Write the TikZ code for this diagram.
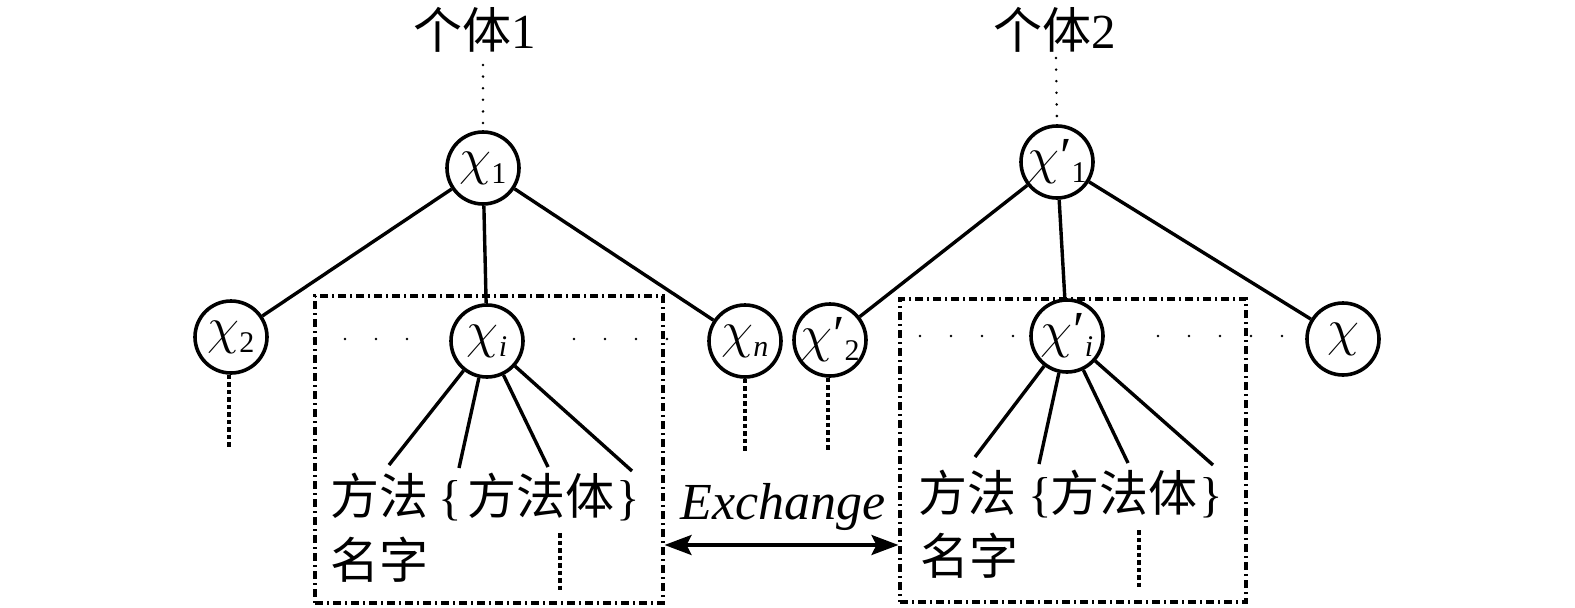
\RequirePackage{fix-cm}
\documentclass[tikz,border=0pt]{standalone}
\usepackage{fontspec}
\setmainfont{Liberation Serif}
\newfontfamily\cjk{Noto Sans CJK SC}
\usetikzlibrary{arrows.meta}
\newcommand\chiit{$\chi$}
\newcommand\subs[1]{\raisebox{-9pt}{\fontsize{30}{31}\selectfont #1}}
\newcommand\prm{\hspace{1pt}′}
\newcommand\lbl[1]{\makebox[0pt]{#1}}
\begin{document}
\begin{tikzpicture}[x=1pt,y=-1pt,
  vertex/.style={circle,draw,line width=3.6pt,minimum size=72pt,inner sep=0pt,font=\fontsize{52}{54}\selectfont},
  edge/.style={line width=3.4pt},
  topdots/.style={line width=2.8pt,line cap=round,dash pattern=on 0pt off 11.6pt},
  rowdots/.style={line width=2.8pt,line cap=round,dash pattern=on 0pt off 31pt},
  vdash/.style={line width=3.1pt,dash pattern=on 4.5pt off 3pt},
  group/.style={draw,line width=3.1pt,dash pattern=on 8pt off 4pt on 2pt off 4pt,inner sep=0pt},
  cjktext/.style={inner sep=0pt,anchor=west,font=\fontsize{49}{52}\selectfont},
  title/.style={inner sep=0pt,font=\fontsize{49}{52}\selectfont},
  ex/.style={inner sep=0pt,font=\fontsize{52}{54}\selectfont\itshape},
  xchg/.style={line width=3.4pt,{Stealth[length=27pt,width=20pt,inset=5pt]}-{Stealth[length=27pt,width=20pt,inset=5pt]}}
]
\useasboundingbox (0,0) rectangle (1575,608);

% boxes
\node[group,minimum width=348pt,minimum height=307pt] (lbox) at (489,449.5) {};
\node[group,minimum width=346pt,minimum height=303pt] (rbox) at (1073,450.5) {};

% titles
\node[title] (t1) at (475,30) {{\cjk 个体}1};
\node[title] (t2) at (1055,30) {{\cjk 个体}2};

% vertices, individual 1
\node[vertex] (a1) at (483,168) {\lbl{\chiit\subs{1}}};
\node[vertex] (a2) at (231,337) {\lbl{\chiit\subs{2}}};
\node[vertex] (ai) at (487,341) {\lbl{\chiit\subs{\textit{i}}}};
\node[vertex] (an) at (745,341) {\lbl{\chiit\subs{\textit{n}}}};

% vertices, individual 2
\node[vertex] (b1) at (1057,162) {\lbl{\chiit\prm\subs{1}}};
\node[vertex] (b2) at (830,340) {\lbl{\chiit\prm\subs{2}}};
\node[vertex] (bi) at (1067,336) {\lbl{\chiit\prm\subs{\textit{i}}}};
\node[vertex] (bn) at (1343,339) {\lbl{\chiit}};

% top dotted links
\coordinate (t1d) at (483,65);
\coordinate (t2d) at (1056,58);
\draw[topdots] (t1d) -- (a1.north);
\draw[topdots,shorten >=6pt] (t2d) -- (b1.north);

% tree edges
\draw[edge] (a1) -- (a2);
\draw[edge] (a1) -- (ai);
\draw[edge] (a1) -- (an);
\draw[edge] (b1) -- (b2);
\draw[edge] (b1) -- (bi);
\draw[edge] (b1) -- (bn);

% children of chi_i
\coordinate (la) at (389,465);
\coordinate (lb) at (459,468);
\coordinate (lc) at (548,467);
\coordinate (ld) at (632,471);
\draw[edge] (ai) -- (la);
\draw[edge] (ai) -- (lb);
\draw[edge] (ai) -- (lc);
\draw[edge] (ai) -- (ld);
\coordinate (ra) at (975,457);
\coordinate (rb) at (1039,464);
\coordinate (rc) at (1128,463);
\coordinate (rd) at (1213,465);
\draw[edge] (bi) -- (ra);
\draw[edge] (bi) -- (rb);
\draw[edge] (bi) -- (rc);
\draw[edge] (bi) -- (rd);

% sibling dots
\draw[rowdots] (314,339) -- (408,339);
\draw[rowdots] (574,339) -- (668,339);
\draw[rowdots] (920,336) -- (1014,336);
\draw[rowdots] (1158,336) -- (1284,336);

% dashed continuations
\coordinate (a2e) at (229,448);
\coordinate (ane) at (745,452);
\coordinate (b2e) at (828,452);
\draw[vdash] (a2.south -| a2e) -- (a2e);
\draw[vdash] (an.south) -- (ane);
\draw[vdash] (b2.south -| b2e) -- (b2e);
\coordinate (lv1) at (560,533);
\coordinate (lv2) at (560,590);
\coordinate (rv1) at (1139,530);
\coordinate (rv2) at (1139,587);
\draw[vdash] (lv1) -- (lv2);
\draw[vdash] (rv1) -- (rv2);

% texts in boxes
\node[cjktext] (lm) at (330,497) {{\cjk 方法}\hspace{10pt}\{\hspace{6pt}{\cjk 方法体}\hspace{2pt}\}};
\node[cjktext] (ln) at (330,560) {\cjk 名字};
\node[cjktext] (rm) at (918,494) {{\cjk 方法}\hspace{12pt}\{\hspace{-1pt}{\cjk 方法体}\hspace{2pt}\}};
\node[cjktext] (rn) at (920,556) {\cjk 名字};

% exchange
\node[ex] (exl) at (783,507) {Exchange};
\coordinate (ay) at (0,545);
\draw[xchg] (lbox.east |- ay) -- (rbox.west |- ay);
\end{tikzpicture}
\end{document}
